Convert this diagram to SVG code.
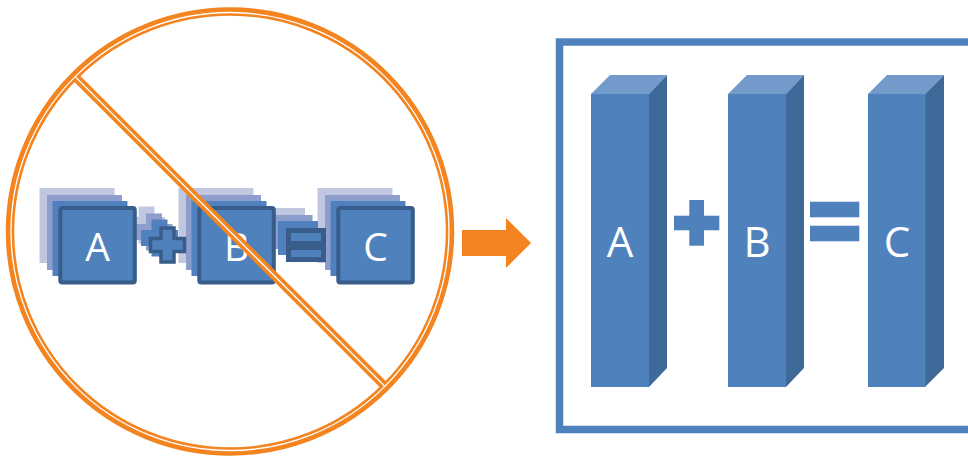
<svg xmlns="http://www.w3.org/2000/svg" width="968" height="456" viewBox="0 0 968 456">
<style>
.g1{fill:#C1C7E1}
.g2{fill:#8E9ECC}
.g3{fill:#5080BE}
.fr{fill:#4F81BD;stroke:#385D8A;stroke-width:4;stroke-linejoin:round}
.op{fill:#4F81BD;stroke:#385D8A;stroke-width:3.5;stroke-linejoin:miter}
.eq{fill:#4F81BD;stroke:#385D8A;stroke-width:5}
.lt{font-family:"Open Sans","Liberation Sans",sans-serif;fill:#FFFFFF;text-anchor:middle}
.front{fill:#4F81BD}
.side{fill:#3F6999}
.top{fill:#729ACB}
.org{fill:none;stroke:#F4841F}
.wht{fill:none;stroke:#FFFFFF;stroke-width:1.3}
</style>
<defs>
<rect id="box" x="0" y="0" width="75" height="75"/>
<path id="plus" d="M-6.5,-17 H6.5 V-6.5 H17 V6.5 H6.5 V17 H-6.5 V6.5 H-17 V-6.5 H-6.5 Z"/>
<path id="plusG" d="M-8,-18.5 H8 V-8 H18.5 V8 H8 V18.5 H-8 V8 H-18.5 V-8 H-8 Z"/>
</defs>

<g id="old-ghosts">
  <use href="#box" x="39.5" y="188" class="g1"/>
  <use href="#plusG" x="146.5" y="225" class="g1"/>
  <use href="#box" x="178.5" y="188" class="g1"/>
  <rect x="265" y="208" width="40" height="34" class="g1"/>
  <use href="#box" x="317.5" y="188" class="g1"/>
  <use href="#box" x="47" y="195" class="g2"/>
  <use href="#plusG" x="154" y="232" class="g2"/>
  <use href="#box" x="186" y="195" class="g2"/>
  <rect x="272.5" y="215" width="40" height="34" class="g2"/>
  <use href="#box" x="325" y="195" class="g2"/>
  <use href="#box" x="52.5" y="201" class="g3"/>
  <use href="#plusG" x="159.5" y="238" class="g3"/>
  <use href="#box" x="191.5" y="201" class="g3"/>
  <rect x="278" y="221" width="40" height="34" class="g3"/>
  <use href="#box" x="330.5" y="201" class="g3"/>
</g>

<g id="old-A">
  <rect x="60.3" y="208" width="74.5" height="74.5" rx="2" class="fr"/>
  <text x="97.5" y="261" font-size="39" class="lt">A</text>
</g>
<g id="old-plus">
  <use href="#plus" x="167.5" y="245" class="op"/>
</g>
<g id="old-B">
  <rect x="199.3" y="208" width="74.5" height="74.5" rx="2" class="fr"/>
  <text x="236.5" y="261" font-size="39" class="lt">B</text>
</g>
<g id="old-equals">
  <rect x="288.5" y="230.5" width="35" height="13" class="eq"/>
  <rect x="288.5" y="247.5" width="35" height="12" class="eq"/>
</g>
<g id="old-C">
  <rect x="338.3" y="208" width="74.5" height="74.5" rx="2" class="fr"/>
  <text x="375.5" y="261" font-size="39" class="lt">C</text>
</g>

<g id="no-sign">
  <circle cx="230" cy="231.5" r="220" class="org" stroke-width="8.5"/>
  <line x1="74.4" y1="75.9" x2="385.6" y2="387.1" class="org" stroke-width="8.5"/>
  <circle cx="230" cy="231.5" r="219" class="wht"/>
  <line x1="75.5" y1="77" x2="384.5" y2="386" class="wht"/>
</g>

<g id="connectors">
  <polygon points="462,230 506,230 506,218 531,243 506,268 506,256 462,256" fill="#F4841F"/>
</g>

<g id="new-frame">
  <rect x="559.5" y="42" width="430" height="387.5" fill="none" stroke="#4F81BD" stroke-width="7.5"/>
</g>

<g id="new-A">
  <polygon points="591,94 610,75 667,75 649,94" class="top"/>
  <polygon points="649,94 667,75 667,368 649,387" class="side"/>
  <rect x="591" y="94" width="58" height="293" class="front"/>
  <text x="620" y="257" font-size="42" class="lt">A</text>
</g>
<g id="new-plus">
  <rect x="674" y="215.7" width="45.3" height="14.6" fill="#4F81BD"/>
  <rect x="689.3" y="200" width="14.7" height="45.7" fill="#4F81BD"/>
</g>
<g id="new-B">
  <polygon points="728,94 747,75 804,75 786,94" class="top"/>
  <polygon points="786,94 804,75 804,368 786,387" class="side"/>
  <rect x="728" y="94" width="58" height="293" class="front"/>
  <text x="757" y="257" font-size="42" class="lt">B</text>
</g>
<g id="new-equals">
  <rect x="810" y="201.7" width="49.3" height="15.6" fill="#4F81BD"/>
  <rect x="810" y="225.7" width="49.3" height="15.6" fill="#4F81BD"/>
</g>
<g id="new-C">
  <polygon points="868,94 887,75 944,75 925,94" class="top"/>
  <polygon points="925,94 944,75 944,368 925,387" class="side"/>
  <rect x="868" y="94" width="57.5" height="293" class="front"/>
  <text x="897" y="257" font-size="42" class="lt">C</text>
</g>
</svg>
